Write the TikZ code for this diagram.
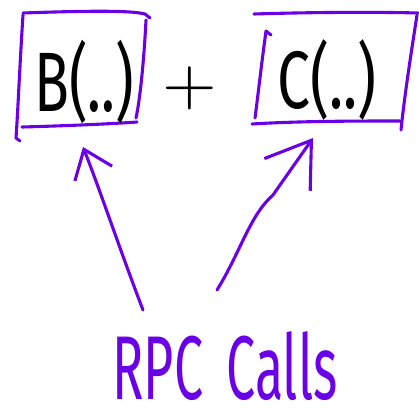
\documentclass[tikz,border=0pt]{standalone}
\usepackage{fontspec}
\setmainfont{Fira Sans}
\usepackage{graphicx}
\usetikzlibrary{arrows.meta}
\definecolor{pen}{RGB}{106,0,232}
\tikzset{
  stroke/.style={draw=pen, line width=2.2pt, line cap=round, line join=round},
  label/.style={inner sep=0pt, text=black},
  rpc/.style={inner sep=0pt, text=pen},
}
\begin{document}
\begin{tikzpicture}[x=0.025cm,y=-0.025cm]
\useasboundingbox (0,0) rectangle (419,414);
% box B (hand-drawn)
\draw[stroke] (23,13) .. controls (80,11) and (130,10) .. (145,14) -- (150,18);
\draw[stroke] (23,15) .. controls (20,60) and (18,110) .. (16,138) -- (20,141);
\draw[stroke] (22,127) .. controls (60,126) and (110,124) .. (137,122);
\draw[stroke] (146,20) .. controls (144,60) and (140,100) .. (136,118);
% box C (hand-drawn)
\draw[stroke] (254,14) .. controls (320,12) and (380,12) .. (418,13);
\draw[stroke] (271,35) -- (266,31) .. controls (262,60) and (258,95) .. (255,118);
\draw[stroke] (252,124) .. controls (300,121) and (360,121) .. (400,121);
\draw[stroke] (417,15) .. controls (410,60) and (404,100) .. (401,130);
% texts
\node[label, font=\fontsize{60}{60}\selectfont] (B) at (84,82) {\scalebox{0.68}[1]{B(..)}};
\node[label] (plus) at (190,88) {\scalebox{5.0}[4.6]{$+$}};
\node[label, font=\fontsize{58}{58}\selectfont] (C) at (327,80) {\scalebox{0.72}[1]{C(..)}};
\node[rpc, font=\fontsize{56}{56}\selectfont] (rpc) at (225,366) {\scalebox{0.66}[1.15]{RPC\hspace{0.45em}Calls}};
% arrows
\coordinate (t1) at (143,310);
\coordinate (h1) at (83,147);
\coordinate (t2) at (217,290);
\coordinate (h2) at (313,138);
\draw[stroke, -{Straight Barb[length=0.65cm, width=1.0cm]}] (t1) .. controls (120,250) and (100,190) .. (h1);
\draw[stroke, -{Straight Barb[length=1.05cm, width=1.4cm]}] (t2) .. controls (240,253) and (250,215) .. (273,195) -- (h2);
\end{tikzpicture}
\end{document}
